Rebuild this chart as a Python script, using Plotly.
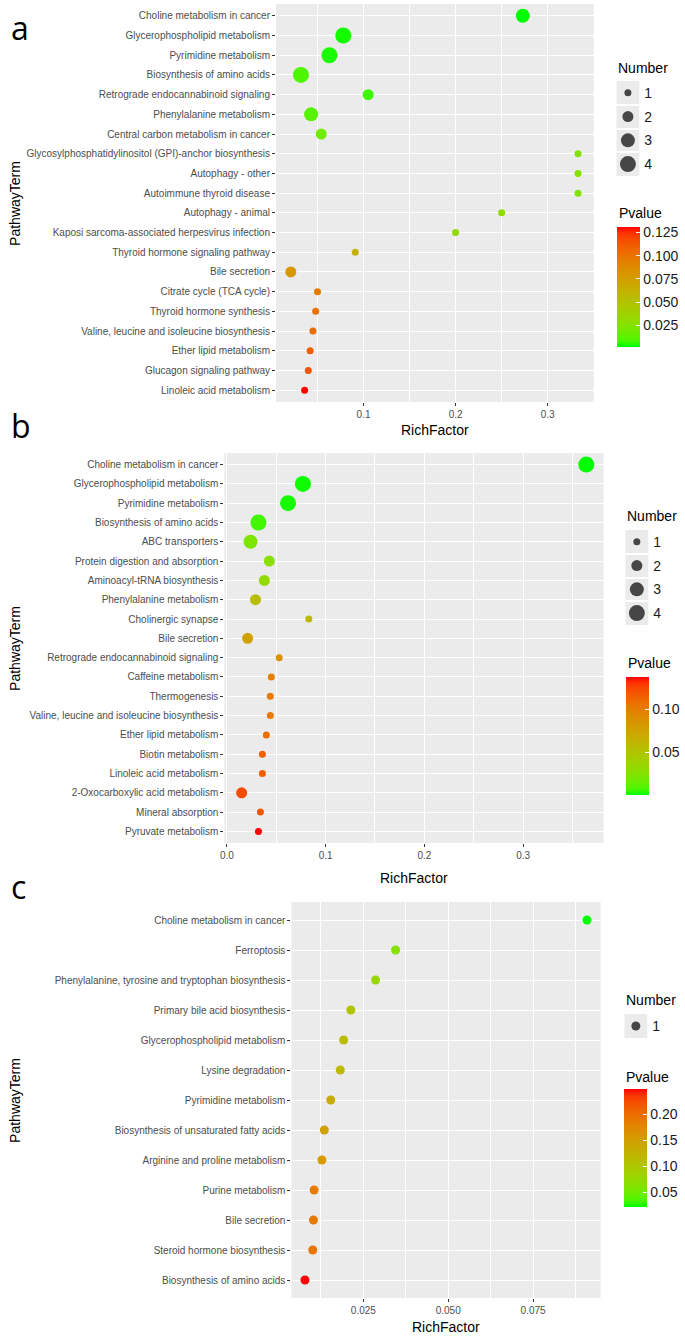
import numpy as np
import plotly.graph_objects as go

W, H = 685, 1337
FONT = "Liberation Sans, Arial, sans-serif"

# ---- panel a ----
terms_a = ["Choline metabolism in cancer", "Glycerophospholipid metabolism", "Pyrimidine metabolism",
           "Biosynthesis of amino acids", "Retrograde endocannabinoid signaling", "Phenylalanine metabolism",
           "Central carbon metabolism in cancer", "Glycosylphosphatidylinositol (GPI)-anchor biosynthesis",
           "Autophagy - other", "Autoimmune thyroid disease", "Autophagy - animal",
           "Kaposi sarcoma-associated herpesvirus infection", "Thyroid hormone signaling pathway",
           "Bile secretion", "Citrate cycle (TCA cycle)", "Thyroid hormone synthesis",
           "Valine, leucine and isoleucine biosynthesis", "Ether lipid metabolism",
           "Glucagon signaling pathway", "Linoleic acid metabolism"]
rich_a = [0.273, 0.078, 0.063, 0.032, 0.105, 0.043, 0.054, 0.333, 0.333, 0.333,
          0.25, 0.2, 0.091, 0.021, 0.050, 0.048, 0.045, 0.042, 0.040, 0.036]
num_a = [3, 4, 4, 4, 2, 3, 2, 1, 1, 1, 1, 1, 1, 2, 1, 1, 1, 1, 1, 1]
p_a = [0.0015, 0.003, 0.004, 0.009, 0.007, 0.011, 0.018, 0.024, 0.024, 0.024,
       0.028, 0.032, 0.062, 0.080, 0.096, 0.100, 0.104, 0.110, 0.114, 0.131]

# ---- panel b ----
terms_b = ["Choline metabolism in cancer", "Glycerophospholipid metabolism", "Pyrimidine metabolism",
           "Biosynthesis of amino acids", "ABC transporters", "Protein digestion and absorption",
           "Aminoacyl-tRNA biosynthesis", "Phenylalanine metabolism", "Cholinergic synapse",
           "Bile secretion", "Retrograde endocannabinoid signaling", "Caffeine metabolism",
           "Thermogenesis", "Valine, leucine and isoleucine biosynthesis", "Ether lipid metabolism",
           "Biotin metabolism", "Linoleic acid metabolism", "2-Oxocarboxylic acid metabolism",
           "Mineral absorption", "Pyruvate metabolism"]
rich_b = [0.364, 0.077, 0.062, 0.032, 0.024, 0.043, 0.038, 0.029, 0.083, 0.021,
          0.053, 0.045, 0.044, 0.044, 0.040, 0.036, 0.036, 0.015, 0.034, 0.032]
num_b = [4, 4, 4, 4, 3, 2, 2, 2, 1, 2, 1, 1, 1, 1, 1, 1, 1, 2, 1, 1]
p_b = [0.0008, 0.002, 0.003, 0.007, 0.022, 0.028, 0.032, 0.055, 0.060, 0.075,
       0.086, 0.098, 0.100, 0.100, 0.108, 0.115, 0.115, 0.123, 0.118, 0.137]

# ---- panel c ----
terms_c = ["Choline metabolism in cancer", "Ferroptosis", "Phenylalanine, tyrosine and tryptophan biosynthesis",
           "Primary bile acid biosynthesis", "Glycerophospholipid metabolism", "Lysine degradation",
           "Pyrimidine metabolism", "Biosynthesis of unsaturated fatty acids", "Arginine and proline metabolism",
           "Purine metabolism", "Bile secretion", "Steroid hormone biosynthesis", "Biosynthesis of amino acids"]
rich_c = [0.0909, 0.0345, 0.0286, 0.0213, 0.0192, 0.0182, 0.0154, 0.0135, 0.0128,
          0.0105, 0.0103, 0.0101, 0.0078]
num_c = [1] * 13
p_c = [0.022, 0.065, 0.077, 0.102, 0.114, 0.119, 0.133, 0.148, 0.154, 0.187, 0.189, 0.192, 0.248]

levels_ab = [1, 2, 3, 4]
levels_c = [1]

# point diameter (px) for each Number level
dot_ab = {1: 7, 2: 11, 3: 14, 4: 16}
dot_c = {1: 9}  # single level -> ggplot puts it mid-range


def X(px):
    return px / W


def Y(py):
    return 1 - py / H


# green -> red gradient interpolated in Lab, like ggplot's scale_colour_gradient
def _to_lab(rgb):
    c = np.array(rgb) / 255.0
    c = np.where(c <= 0.04045, c / 12.92, ((c + 0.055) / 1.055) ** 2.4)
    M = np.array([[0.4124564, 0.3575761, 0.1804375],
                  [0.2126729, 0.7151522, 0.0721750],
                  [0.0193339, 0.1191920, 0.9503041]])
    xyz = M @ c / np.array([0.95047, 1.0, 1.08883])
    d = 6 / 29
    f = np.where(xyz > d ** 3, np.cbrt(xyz), xyz / (3 * d * d) + 4 / 29)
    return np.array([116 * f[1] - 16, 500 * (f[0] - f[1]), 200 * (f[1] - f[2])])


def _from_lab(lab):
    L, a, b = lab
    fy = (L + 16) / 116
    f = np.array([fy + a / 500, fy, fy - b / 200])
    d = 6 / 29
    xyz = np.where(f > d, f ** 3, 3 * d * d * (f - 4 / 29)) * np.array([0.95047, 1.0, 1.08883])
    Mi = np.array([[3.2404542, -1.5371385, -0.4985314],
                   [-0.9692660, 1.8760108, 0.0415560],
                   [0.0556434, -0.2040259, 1.0572252]])
    c = Mi @ xyz
    c = np.where(c <= 0.0031308, 12.92 * c, 1.055 * np.abs(c) ** (1 / 2.4) - 0.055)
    c = np.clip(c, 0, 1) * 255
    return "rgb(%d,%d,%d)" % tuple(np.round(c))


lo, hi = _to_lab((0, 255, 0)), _to_lab((255, 0, 0))
scale = [[t, _from_lab(lo + (hi - lo) * t)] for t in np.linspace(0, 1, 21)]

fig = go.Figure()

panels = [
    dict(terms=terms_a, rich=rich_a, num=num_a, p=p_a, ax="", xr=[0.0049, 0.35], dtick=0.1, fmt=".1f",
         xdom=(274, 594), ydom=(4, 402), letter="a", letter_y=27, dots=dot_ab,
         cb=dict(x=618, top=227, bot=347, dtick=0.025, fmt=".3f"),
         legend=dict(levels=levels_ab, x=617, top=81, bot=176, title_y=68, pv_y=213),
         title_y=430),
    dict(terms=terms_b, rich=rich_b, num=num_b, p=p_b, ax="2", xr=[-0.0025, 0.3815], dtick=0.1, fmt=".1f",
         xdom=(222, 604), ydom=(453, 843), letter="b", letter_y=425, dots=dot_ab,
         cb=dict(x=627, top=677, bot=795, dtick=0.05, fmt=".2f"),
         legend=dict(levels=levels_ab, x=626, top=530, bot=625, title_y=516, pv_y=663),
         title_y=878),
    dict(terms=terms_c, rich=rich_c, num=num_c, p=p_c, ax="3", xr=[0.0038, 0.0949], dtick=0.025, fmt=".3f",
         xdom=(289.5, 601), ydom=(902, 1298), letter="c", letter_y=886, dots=dot_c,
         cb=dict(x=625, top=1089, bot=1207, dtick=0.05, fmt=".2f"),
         legend=dict(levels=levels_c, x=625, top=1014, bot=1038, title_y=1000, pv_y=1077),
         title_y=1327),
]

layout = dict(width=W, height=H, margin=dict(l=0, r=0, t=0, b=0),
              paper_bgcolor="white", plot_bgcolor="#EBEBEB", showlegend=False,
              font=dict(family=FONT, color="#000000"))
annotations = []

for i, pn in enumerate(panels):
    ax = pn["ax"]
    lax = str(i + 4)
    n = len(pn["terms"])
    cax = "coloraxis" + ax
    dots = pn["dots"]
    fig.add_trace(go.Scatter(
        x=pn["rich"], y=pn["terms"], mode="markers",
        xaxis="x" + ax, yaxis="y" + ax,
        marker=dict(size=[dots[v] for v in pn["num"]], color=pn["p"], coloraxis=cax,
                    line=dict(width=0), opacity=1),
        hovertemplate="%{y}<br>RichFactor %{x}<br>Pvalue %{marker.color}<extra></extra>"))

    layout["xaxis" + ax] = dict(
        domain=[X(pn["xdom"][0]), X(pn["xdom"][1])], anchor="y" + ax, range=pn["xr"],
        tick0=0, dtick=pn["dtick"], tickformat=pn["fmt"], ticks="outside", ticklen=3,
        tickcolor="#333333", tickfont=dict(size=10, color="#4D4D4D"),
        showgrid=True, gridcolor="white", gridwidth=1.3, zeroline=False, showline=False,
        minor=dict(tick0=0, dtick=pn["dtick"] / 2, showgrid=True, gridcolor="white", gridwidth=0.6))
    layout["yaxis" + ax] = dict(
        domain=[Y(pn["ydom"][1]), Y(pn["ydom"][0])], anchor="x" + ax, type="category",
        categoryorder="array", categoryarray=pn["terms"], range=[n - 0.4, -0.6],
        ticks="outside", ticklen=3, tickcolor="#333333", tickfont=dict(size=10, color="#4D4D4D"),
        showgrid=True, gridcolor="white", gridwidth=1.3, zeroline=False, showline=False)

    cb = pn["cb"]
    layout[cax] = dict(
        colorscale=scale, cmin=min(pn["p"]), cmax=max(pn["p"]),
        colorbar=dict(x=X(cb["x"]), xanchor="left", y=Y(cb["top"]), yanchor="top",
                      lenmode="pixels", len=cb["bot"] - cb["top"], thickness=23,
                      xpad=0, ypad=0, outlinewidth=0, tick0=0, dtick=cb["dtick"],
                      tickformat=cb["fmt"], ticks="inside", ticklen=4, tickcolor="white",
                      tickfont=dict(size=14, color="#1A1A1A")))

    # size legend (Number)
    lg = pn["legend"]
    lv = lg["levels"]
    fig.add_trace(go.Scatter(
        x=[0] * len(lv), y=lv, mode="markers", xaxis="x" + lax, yaxis="y" + lax,
        marker=dict(size=[dots[v] for v in lv], color="black", line=dict(width=0)),
        hoverinfo="skip"))
    layout["xaxis" + lax] = dict(domain=[X(lg["x"]), X(lg["x"] + 23)], anchor="y" + lax,
                                 range=[-1, 1], visible=False)
    layout["yaxis" + lax] = dict(
        domain=[Y(lg["bot"]), Y(lg["top"])], anchor="x" + lax, side="right",
        range=[len(lv) + 0.5, 0.5], tickvals=lv, ticktext=[str(v) for v in lv],
        ticks="", showgrid=False, zeroline=False, showline=False,
        tickfont=dict(size=14, color="#1A1A1A"), ticklabelstandoff=4,
        minor=dict(tickmode="array", tickvals=[v + 0.5 for v in lv[:-1]], showgrid=True,
                   gridcolor="white", gridwidth=2, ticks=""))

    annotations += [
        dict(text="Number", x=X(lg["x"]), y=Y(lg["title_y"]), xanchor="left", yanchor="middle",
             font=dict(size=14, color="#000000")),
        dict(text="Pvalue", x=X(cb["x"]), y=Y(lg["pv_y"]), xanchor="left", yanchor="middle",
             font=dict(size=14, color="#000000")),
        dict(text=pn["letter"], x=X(5), y=Y(pn["letter_y"]), xanchor="left", yanchor="middle",
             font=dict(size=32, color="#000000", family="Open Sans, sans-serif")),
        dict(text="RichFactor", x=X((pn["xdom"][0] + pn["xdom"][1]) / 2), y=Y(pn["title_y"]),
             xanchor="center", yanchor="middle", font=dict(size=14, color="#000000")),
        dict(text="PathwayTerm", x=X(11), y=Y((pn["ydom"][0] + pn["ydom"][1]) / 2), textangle=-90,
             xanchor="center", yanchor="middle", font=dict(size=14, color="#000000")),
    ]

for a in annotations:
    a.update(xref="paper", yref="paper", showarrow=False)
layout["annotations"] = annotations
fig.update_layout(**layout)

# the page's default body margin would push the figure 8px right/down
fig.write_html("out.html", config={"displayModeBar": False},
               post_script="document.body.style.margin='0';")
